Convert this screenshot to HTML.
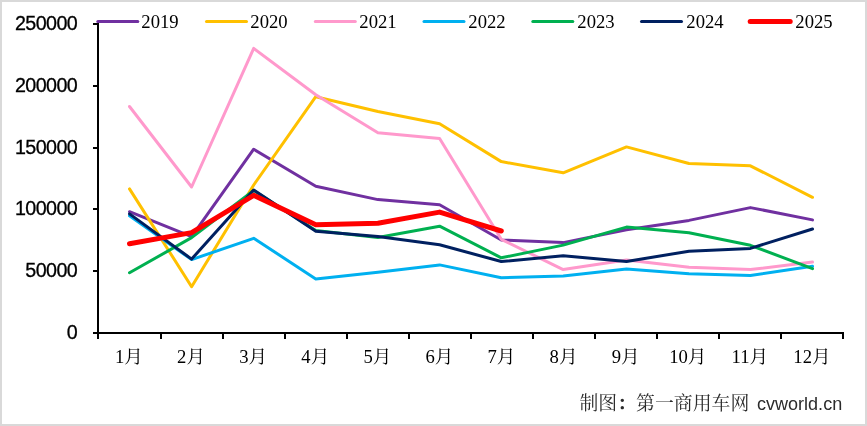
<!DOCTYPE html><html><head><meta charset="utf-8"><title>chart</title><style>html,body{margin:0;padding:0;background:#fff}body{width:867px;height:426px;overflow:hidden}svg{display:block}</style></head><body>
<svg width="867" height="426" viewBox="0 0 867 426">
<rect x="0" y="0" width="867" height="426" fill="#d9d9d9"/>
<rect x="2" y="2" width="863" height="422" fill="#fff"/>
<polyline points="129.5,211.7 191.6,236.7 253.7,149.2 315.8,186.3 377.9,199.6 439.6,204.7 501.3,240.0 563.2,242.6 626.5,229.7 689.0,220.4 750.4,207.6 812.5,219.9" fill="none" stroke="#7030A0" stroke-width="3.0" stroke-linecap="round" stroke-linejoin="round"/>
<polyline points="129.5,188.9 191.6,286.7 253.7,185.0 315.8,96.7 377.9,111.5 439.6,123.8 501.3,161.6 563.2,172.8 626.5,146.9 689.0,163.5 750.4,165.8 812.5,197.3" fill="none" stroke="#FFC000" stroke-width="3.0" stroke-linecap="round" stroke-linejoin="round"/>
<polyline points="129.5,106.5 191.6,187.0 253.7,48.4 315.8,94.7 377.9,132.7 439.6,138.5 501.3,239.3 563.2,269.6 626.5,259.9 689.0,267.2 750.4,269.6 812.5,262.1" fill="none" stroke="#FF99CC" stroke-width="3.0" stroke-linecap="round" stroke-linejoin="round"/>
<polyline points="129.5,215.8 191.6,259.6 253.7,238.3 315.8,278.9 377.9,272.2 439.6,264.9 501.3,277.7 563.2,275.9 626.5,269.1 689.0,273.7 750.4,275.4 812.5,266.3" fill="none" stroke="#00B0F0" stroke-width="3.0" stroke-linecap="round" stroke-linejoin="round"/>
<polyline points="129.5,272.8 191.6,237.6 253.7,190.5 315.8,230.4 377.9,237.4 439.6,226.2 501.3,257.8 563.2,245.1 626.5,227.1 689.0,232.8 750.4,245.3 812.5,268.6" fill="none" stroke="#00B050" stroke-width="3.0" stroke-linecap="round" stroke-linejoin="round"/>
<polyline points="129.5,213.9 191.6,259.1 253.7,190.0 315.8,231.3 377.9,236.4 439.6,244.8 501.3,261.5 563.2,255.8 626.5,261.5 689.0,251.2 750.4,248.4 812.5,229.0" fill="none" stroke="#002060" stroke-width="3.0" stroke-linecap="round" stroke-linejoin="round"/>
<polyline points="129.5,243.8 191.6,232.6 253.7,195.3 315.8,224.7 377.9,223.3 439.6,212.1 501.3,231.0" fill="none" stroke="#FF0000" stroke-width="5.0" stroke-linecap="round" stroke-linejoin="round"/>
<g fill="#000" shape-rendering="crispEdges">
<rect x="97" y="23" width="2" height="311"/>
<rect x="97" y="332" width="747" height="2"/>
<rect x="93" y="23" width="5" height="2"/>
<rect x="93" y="85" width="5" height="2"/>
<rect x="93" y="147" width="5" height="2"/>
<rect x="93" y="208" width="5" height="2"/>
<rect x="93" y="270" width="5" height="2"/>
<rect x="93" y="332" width="5" height="2"/>
<rect x="97" y="333" width="2" height="6"/>
<rect x="160" y="333" width="2" height="6"/>
<rect x="222" y="333" width="2" height="6"/>
<rect x="284" y="333" width="2" height="6"/>
<rect x="346" y="333" width="2" height="6"/>
<rect x="408" y="333" width="2" height="6"/>
<rect x="470" y="333" width="2" height="6"/>
<rect x="532" y="333" width="2" height="6"/>
<rect x="594" y="333" width="2" height="6"/>
<rect x="656" y="333" width="2" height="6"/>
<rect x="718" y="333" width="2" height="6"/>
<rect x="780" y="333" width="2" height="6"/>
<rect x="842" y="333" width="2" height="6"/>
</g>
<g font-family="'Liberation Sans', Arial, sans-serif" font-size="19.7" fill="#000" stroke="#000" stroke-width="0.3" letter-spacing="-0.57" text-anchor="end">
<text x="77.2" y="338.7">0</text>
<text x="77.2" y="276.7">50000</text>
<text x="77.2" y="214.7">100000</text>
<text x="77.2" y="153.7">150000</text>
<text x="77.2" y="91.7">200000</text>
<text x="77.2" y="29.7">250000</text>
</g>
<g font-family="'Liberation Serif', 'Noto Serif CJK SC', serif" font-size="18.67" fill="#000" text-anchor="middle">
<text x="129.0" y="363">1月</text>
<text x="191.1" y="363">2月</text>
<text x="253.2" y="363">3月</text>
<text x="315.3" y="363">4月</text>
<text x="377.4" y="363">5月</text>
<text x="439.5" y="363">6月</text>
<text x="501.5" y="363">7月</text>
<text x="563.6" y="363">8月</text>
<text x="625.7" y="363">9月</text>
<text x="687.8" y="363">10月</text>
<text x="749.9" y="363">11月</text>
<text x="812.0" y="363">12月</text>
</g>
<g font-family="'Liberation Serif', 'Noto Serif CJK SC', serif" font-size="18.67" fill="#000">
<path d="M97.8 21.5 H137.8" stroke="#7030A0" stroke-width="3.0" stroke-linecap="round" fill="none"/>
<text x="141.3" y="28">2019</text>
<path d="M206.5 21.5 H246.5" stroke="#FFC000" stroke-width="3.0" stroke-linecap="round" fill="none"/>
<text x="250.3" y="28">2020</text>
<path d="M315.3 21.5 H355.3" stroke="#FF99CC" stroke-width="3.0" stroke-linecap="round" fill="none"/>
<text x="359.3" y="28">2021</text>
<path d="M424.0 21.5 H464.0" stroke="#00B0F0" stroke-width="3.0" stroke-linecap="round" fill="none"/>
<text x="468.3" y="28">2022</text>
<path d="M532.8 21.5 H572.8" stroke="#00B050" stroke-width="3.0" stroke-linecap="round" fill="none"/>
<text x="577.3" y="28">2023</text>
<path d="M641.5 21.5 H681.5" stroke="#002060" stroke-width="3.0" stroke-linecap="round" fill="none"/>
<text x="686.3" y="28">2024</text>
<path d="M750.2 21.5 H790.2" stroke="#FF0000" stroke-width="5.0" stroke-linecap="round" fill="none"/>
<text x="795.3" y="28">2025</text>
</g>
<text x="579.5" y="410.2" font-size="18.87" fill="#2b2b2b" font-family="'Liberation Serif', 'Noto Serif CJK SC', serif">制图<tspan font-weight="bold">：</tspan>第一商用车网</text>
<text x="757" y="410" font-size="18.05" fill="#2b2b2b" font-family="'Liberation Sans', Arial, sans-serif">cvworld.cn</text>
</svg></body></html>
